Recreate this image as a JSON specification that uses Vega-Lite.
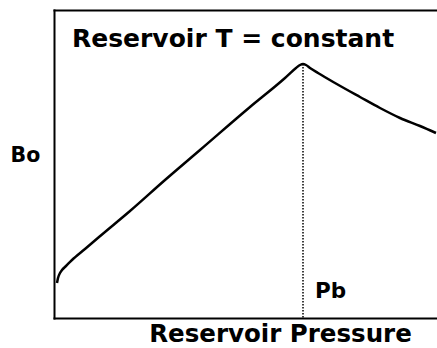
{
  "$schema": "https://vega.github.io/schema/vega-lite/v6.json",
  "width": 383,
  "height": 308,
  "autosize": "none",
  "padding": {"left": 54, "top": 10, "right": 0, "bottom": 30},
  "background": "white",
  "config": {"view": {"stroke": null}, "font": "DejaVu Sans"},
  "datasets": {
    "curve": [
      {"p": 3, "bo": 35}, {"p": 4, "bo": 40}, {"p": 6, "bo": 45}, {"p": 8, "bo": 48},
      {"p": 12, "bo": 52}, {"p": 18, "bo": 58}, {"p": 31, "bo": 69}, {"p": 45, "bo": 81},
      {"p": 76, "bo": 107}, {"p": 111, "bo": 138}, {"p": 146, "bo": 168}, {"p": 196, "bo": 211},
      {"p": 231, "bo": 240}, {"p": 242, "bo": 250}, {"p": 246, "bo": 253}, {"p": 249, "bo": 254},
      {"p": 252, "bo": 253}, {"p": 256, "bo": 250}, {"p": 264, "bo": 245}, {"p": 281, "bo": 235},
      {"p": 306, "bo": 221}, {"p": 326, "bo": 210}, {"p": 346, "bo": 200}, {"p": 366, "bo": 192},
      {"p": 382, "bo": 185}
    ],
    "bubble": [{"p": 249, "bo": 254, "label": "Pb"}]
  },
  "layer": [
    {
      "data": {"name": "curve"},
      "mark": {"type": "line", "interpolate": "monotone", "color": "black", "strokeWidth": 2.5},
      "encoding": {
        "x": {
          "field": "p", "type": "quantitative",
          "scale": {"domain": [0, 383], "nice": false, "zero": false},
          "axis": {
            "orient": "bottom", "domain": true, "domainColor": "black", "domainWidth": 2, "domainCap": "square",
            "ticks": false, "labels": false, "grid": false,
            "title": "Reservoir Pressure", "titleFont": "DejaVu Sans", "titleFontSize": 24.5, "titleFontWeight": "bold",
            "titleColor": "black", "titleX": 226, "titleY": 23, "titleBaseline": "alphabetic", "titleAlign": "center"
          }
        },
        "y": {
          "field": "bo", "type": "quantitative",
          "scale": {"domain": [0, 308], "nice": false, "zero": false},
          "axis": {
            "orient": "left", "domain": true, "domainColor": "black", "domainWidth": 2, "domainCap": "square",
            "ticks": false, "labels": false, "grid": false,
            "title": "Bo", "titleFont": "DejaVu Sans", "titleFontSize": 20.5, "titleFontWeight": "bold",
            "titleColor": "black", "titleAngle": 0, "titleAlign": "left", "titleBaseline": "alphabetic",
            "titleX": -44, "titleY": 151
          }
        }
      }
    },
    {
      "data": {"name": "bubble"},
      "mark": {"type": "rule", "color": "black", "strokeWidth": 1.5, "strokeDash": [1.5, 1.5]},
      "encoding": {
        "x": {
          "field": "p", "type": "quantitative",
          "axis": {
            "orient": "top", "domain": true, "domainColor": "black", "domainWidth": 2, "domainCap": "square",
            "ticks": false, "labels": false, "grid": false, "title": null
          }
        },
        "y": {"field": "bo", "type": "quantitative"},
        "y2": {"datum": 0}
      }
    },
    {
      "data": {"name": "bubble"},
      "mark": {"type": "text", "align": "left", "baseline": "alphabetic", "dx": 12, "font": "DejaVu Sans", "fontSize": 21.5, "fontWeight": "bold", "color": "black"},
      "encoding": {
        "x": {"field": "p", "type": "quantitative", "axis": null},
        "y": {"datum": 20},
        "text": {"field": "label"}
      }
    },
    {
      "data": {"values": [{"label": "Reservoir T = constant"}]},
      "mark": {"type": "text", "align": "left", "baseline": "alphabetic", "font": "DejaVu Sans", "fontSize": 25, "fontWeight": "bold", "color": "black"},
      "encoding": {
        "x": {"datum": 18, "axis": null},
        "y": {"datum": 271},
        "text": {"field": "label"}
      }
    }
  ],
  "resolve": {"axis": {"x": "independent"}}
}
